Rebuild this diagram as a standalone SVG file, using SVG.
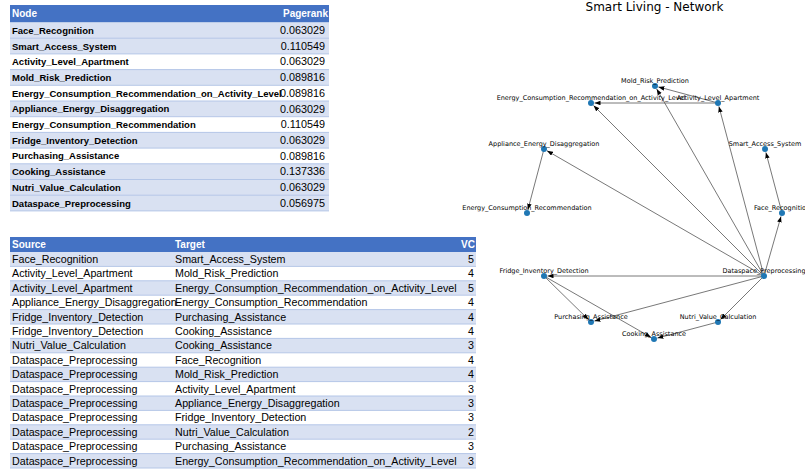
<svg xmlns="http://www.w3.org/2000/svg" width="805" height="470" viewBox="0 0 805 470">
<style>
.hdr{fill:#4472C4}
.band{fill:#D9E1F2}
.wht{fill:#FFFFFF}
.rule{stroke:#B4C6E7;stroke-width:1}
.th{font-family:"Liberation Sans",Arial,sans-serif;font-weight:bold;font-size:10px;fill:#FFFFFF}
.tb{font-family:"Liberation Sans",Arial,sans-serif;font-weight:bold;font-size:9.5px;fill:#000}
.tn{font-family:"Liberation Sans",Arial,sans-serif;font-size:10.8px;fill:#000}
.tr{font-family:"Liberation Sans",Arial,sans-serif;font-size:10.7px;fill:#000}
.r{text-anchor:end}
.title{font-family:"DejaVu Sans",sans-serif;font-size:12px;fill:#000;text-anchor:middle}
.lbl{font-family:"DejaVu Sans",sans-serif;font-size:6.5px;fill:#000;text-anchor:middle}
.node circle{fill:#1f77b4}
.edge{stroke:#555;stroke-width:0.8;fill:none;marker-end:url(#ah)}
</style>
<defs>
<marker id="ah" markerUnits="userSpaceOnUse" markerWidth="7" markerHeight="5" refX="6" refY="2.25" orient="auto">
<path d="M0,0 L6,2.25 L0,4.5 z" fill="#000"/>
</marker>
</defs>
<rect width="805" height="470" fill="#FFFFFF"/>

<g id="pagerank-table">
<rect class="hdr" x="10" y="5" width="319" height="17.5"/>
<rect class="band" x="10" y="22.5" width="319" height="15.7"/>
<rect class="band" x="10" y="38.2" width="319" height="15.7"/>
<rect class="wht" x="10" y="53.9" width="319" height="15.7"/>
<rect class="band" x="10" y="69.6" width="319" height="15.7"/>
<rect class="wht" x="10" y="85.3" width="319" height="15.7"/>
<rect class="band" x="10" y="101" width="319" height="15.7"/>
<rect class="wht" x="10" y="116.7" width="319" height="15.7"/>
<rect class="band" x="10" y="132.4" width="319" height="15.7"/>
<rect class="wht" x="10" y="148.1" width="319" height="15.7"/>
<rect class="band" x="10" y="163.8" width="319" height="15.7"/>
<rect class="band" x="10" y="179.5" width="319" height="15.7"/>
<rect class="band" x="10" y="195.2" width="319" height="15.7"/>
<g class="rule">
<line x1="10" y1="38.2" x2="329" y2="38.2"/><line x1="10" y1="53.9" x2="329" y2="53.9"/>
<line x1="10" y1="69.6" x2="329" y2="69.6"/><line x1="10" y1="85.3" x2="329" y2="85.3"/>
<line x1="10" y1="101" x2="329" y2="101"/><line x1="10" y1="116.7" x2="329" y2="116.7"/>
<line x1="10" y1="132.4" x2="329" y2="132.4"/><line x1="10" y1="148.1" x2="329" y2="148.1"/>
<line x1="10" y1="163.8" x2="329" y2="163.8"/><line x1="10" y1="179.5" x2="329" y2="179.5"/>
<line x1="10" y1="195.2" x2="329" y2="195.2"/><line x1="10" y1="210.9" x2="329" y2="210.9"/>
</g>
<text class="th" x="12" y="17">Node</text>
<text class="th r" x="328" y="17">Pagerank</text>
<text class="tb" x="12" y="33.8">Face_Recognition</text><text class="tn r" x="325" y="34">0.063029</text>
<text class="tb" x="12" y="49.5">Smart_Access_System</text><text class="tn r" x="325" y="49.7">0.110549</text>
<text class="tb" x="12" y="65.2">Activity_Level_Apartment</text><text class="tn r" x="325" y="65.4">0.063029</text>
<text class="tb" x="12" y="80.9">Mold_Risk_Prediction</text><text class="tn r" x="325" y="81.1">0.089816</text>
<text class="tb" x="12" y="96.6">Energy_Consumption_Recommendation_on_Activity_Level</text><text class="tn r" x="325" y="96.8">0.089816</text>
<text class="tb" x="12" y="112.3">Appliance_Energy_Disaggregation</text><text class="tn r" x="325" y="112.5">0.063029</text>
<text class="tb" x="12" y="128" font-size="8.6">Energy_Consumption_Recommendation</text><text class="tn r" x="325" y="128.2">0.110549</text>
<text class="tb" x="12" y="143.7">Fridge_Inventory_Detection</text><text class="tn r" x="325" y="143.9">0.063029</text>
<text class="tb" x="12" y="159.4">Purchasing_Assistance</text><text class="tn r" x="325" y="159.6">0.089816</text>
<text class="tb" x="12" y="175.1">Cooking_Assistance</text><text class="tn r" x="325" y="175.3">0.137336</text>
<text class="tb" x="12" y="190.8">Nutri_Value_Calculation</text><text class="tn r" x="325" y="191">0.063029</text>
<text class="tb" x="12" y="206.5">Dataspace_Preprocessing</text><text class="tn r" x="325" y="206.7">0.056975</text>
</g>

<g id="edge-table">
<rect class="hdr" x="10" y="237" width="466" height="15"/>
<rect class="band" x="10" y="252" width="466" height="14.4"/>
<rect class="wht" x="10" y="266.4" width="466" height="14.4"/>
<rect class="band" x="10" y="280.8" width="466" height="14.4"/>
<rect class="wht" x="10" y="295.2" width="466" height="14.4"/>
<rect class="band" x="10" y="309.6" width="466" height="14.4"/>
<rect class="wht" x="10" y="324" width="466" height="14.4"/>
<rect class="band" x="10" y="338.4" width="466" height="14.4"/>
<rect class="wht" x="10" y="352.8" width="466" height="14.4"/>
<rect class="band" x="10" y="367.2" width="466" height="14.4"/>
<rect class="wht" x="10" y="381.6" width="466" height="14.4"/>
<rect class="band" x="10" y="396" width="466" height="14.4"/>
<rect class="wht" x="10" y="410.4" width="466" height="14.4"/>
<rect class="band" x="10" y="424.8" width="466" height="14.4"/>
<rect class="wht" x="10" y="439.2" width="466" height="14.4"/>
<rect class="band" x="10" y="453.6" width="466" height="14.4"/>
<g class="rule">
<line x1="10" y1="266.4" x2="476" y2="266.4"/><line x1="10" y1="280.8" x2="476" y2="280.8"/>
<line x1="10" y1="295.2" x2="476" y2="295.2"/><line x1="10" y1="309.6" x2="476" y2="309.6"/>
<line x1="10" y1="324" x2="476" y2="324"/><line x1="10" y1="338.4" x2="476" y2="338.4"/>
<line x1="10" y1="352.8" x2="476" y2="352.8"/><line x1="10" y1="367.2" x2="476" y2="367.2"/>
<line x1="10" y1="381.6" x2="476" y2="381.6"/><line x1="10" y1="396" x2="476" y2="396"/>
<line x1="10" y1="410.4" x2="476" y2="410.4"/><line x1="10" y1="424.8" x2="476" y2="424.8"/>
<line x1="10" y1="439.2" x2="476" y2="439.2"/><line x1="10" y1="453.6" x2="476" y2="453.6"/>
<line x1="10" y1="468" x2="476" y2="468"/>
</g>
<text class="th" x="12" y="248">Source</text>
<text class="th" x="175" y="248">Target</text>
<text class="th r" x="475" y="248">VC</text>
<text class="tr" x="12" y="263">Face_Recognition</text><text class="tr" x="175" y="263">Smart_Access_System</text><text class="tr r" x="474" y="263">5</text>
<text class="tr" x="12" y="277.4">Activity_Level_Apartment</text><text class="tr" x="175" y="277.4">Mold_Risk_Prediction</text><text class="tr r" x="474" y="277.4">4</text>
<text class="tr" x="12" y="291.8">Activity_Level_Apartment</text><text class="tr" x="175" y="291.8">Energy_Consumption_Recommendation_on_Activity_Level</text><text class="tr r" x="474" y="291.8">5</text>
<text class="tr" x="12" y="306.2">Appliance_Energy_Disaggregation</text><text class="tr" x="175" y="306.2">Energy_Consumption_Recommendation</text><text class="tr r" x="474" y="306.2">4</text>
<text class="tr" x="12" y="320.6">Fridge_Inventory_Detection</text><text class="tr" x="175" y="320.6">Purchasing_Assistance</text><text class="tr r" x="474" y="320.6">4</text>
<text class="tr" x="12" y="335">Fridge_Inventory_Detection</text><text class="tr" x="175" y="335">Cooking_Assistance</text><text class="tr r" x="474" y="335">4</text>
<text class="tr" x="12" y="349.4">Nutri_Value_Calculation</text><text class="tr" x="175" y="349.4">Cooking_Assistance</text><text class="tr r" x="474" y="349.4">3</text>
<text class="tr" x="12" y="363.8">Dataspace_Preprocessing</text><text class="tr" x="175" y="363.8">Face_Recognition</text><text class="tr r" x="474" y="363.8">4</text>
<text class="tr" x="12" y="378.2">Dataspace_Preprocessing</text><text class="tr" x="175" y="378.2">Mold_Risk_Prediction</text><text class="tr r" x="474" y="378.2">4</text>
<text class="tr" x="12" y="392.6">Dataspace_Preprocessing</text><text class="tr" x="175" y="392.6">Activity_Level_Apartment</text><text class="tr r" x="474" y="392.6">3</text>
<text class="tr" x="12" y="407">Dataspace_Preprocessing</text><text class="tr" x="175" y="407">Appliance_Energy_Disaggregation</text><text class="tr r" x="474" y="407">3</text>
<text class="tr" x="12" y="421.4">Dataspace_Preprocessing</text><text class="tr" x="175" y="421.4">Fridge_Inventory_Detection</text><text class="tr r" x="474" y="421.4">3</text>
<text class="tr" x="12" y="435.8">Dataspace_Preprocessing</text><text class="tr" x="175" y="435.8">Nutri_Value_Calculation</text><text class="tr r" x="474" y="435.8">2</text>
<text class="tr" x="12" y="450.2">Dataspace_Preprocessing</text><text class="tr" x="175" y="450.2">Purchasing_Assistance</text><text class="tr r" x="474" y="450.2">3</text>
<text class="tr" x="12" y="464.6">Dataspace_Preprocessing</text><text class="tr" x="175" y="464.6">Energy_Consumption_Recommendation_on_Activity_Level</text><text class="tr r" x="474" y="464.6">3</text>
</g>

<text class="title" x="654.5" y="11">Smart Living - Network</text>

<g id="connectors">
<line class="edge" x1="782" y1="213" x2="765.9" y2="152.4"/>
<line class="edge" x1="718" y1="103" x2="658.4" y2="86.9"/>
<line class="edge" x1="718" y1="103" x2="594.5" y2="103"/>
<line class="edge" x1="544" y1="149" x2="527.9" y2="209.6"/>
<line class="edge" x1="544" y1="276" x2="588.5" y2="319.6"/>
<line class="edge" x1="544" y1="276" x2="651" y2="337.3"/>
<line class="edge" x1="718" y1="322" x2="657.4" y2="338.1"/>
<line class="edge" x1="764" y1="276" x2="781" y2="216.4"/>
<line class="edge" x1="764" y1="276" x2="656.7" y2="89"/>
<line class="edge" x1="764" y1="276" x2="718.9" y2="106.4"/>
<line class="edge" x1="764" y1="276" x2="547" y2="150.75"/>
<line class="edge" x1="764" y1="276" x2="547.5" y2="276"/>
<line class="edge" x1="764" y1="276" x2="720.5" y2="319.5"/>
<line class="edge" x1="764" y1="276" x2="594.4" y2="321.1"/>
<line class="edge" x1="764" y1="276" x2="593.5" y2="105.5"/>
</g>

<g id="n-mold" class="node"><circle cx="655" cy="86" r="3"/><text class="lbl" x="655" y="83">Mold_Risk_Prediction</text></g>
<g id="n-ecral" class="node"><circle cx="591" cy="103" r="3"/><text class="lbl" x="591" y="100">Energy_Consumption_Recommendation_on_Activity_Level</text></g>
<g id="n-ala" class="node"><circle cx="718" cy="103" r="3"/><text class="lbl" x="718" y="100">Activity_Level_Apartment</text></g>
<g id="n-aed" class="node"><circle cx="544" cy="149" r="3"/><text class="lbl" x="544" y="146">Appliance_Energy_Disaggregation</text></g>
<g id="n-sas" class="node"><circle cx="765" cy="149" r="3"/><text class="lbl" x="765" y="146">Smart_Access_System</text></g>
<g id="n-ecr" class="node"><circle cx="527" cy="213" r="3"/><text class="lbl" x="527" y="210">Energy_Consumption_Recommendation</text></g>
<g id="n-fr" class="node"><circle cx="782" cy="213" r="3"/><text class="lbl" x="782" y="210">Face_Recognition</text></g>
<g id="n-fid" class="node"><circle cx="544" cy="276" r="3"/><text class="lbl" x="544" y="273">Fridge_Inventory_Detection</text></g>
<g id="n-dp" class="node"><circle cx="764" cy="276" r="3"/><text class="lbl" x="764" y="273">Dataspace_Preprocessing</text></g>
<g id="n-pa" class="node"><circle cx="591" cy="322" r="3"/><text class="lbl" x="591" y="319">Purchasing_Assistance</text></g>
<g id="n-nvc" class="node"><circle cx="718" cy="322" r="3"/><text class="lbl" x="718" y="319">Nutri_Value_Calculation</text></g>
<g id="n-ca" class="node"><circle cx="654" cy="339" r="3"/><text class="lbl" x="654" y="336">Cooking_Assistance</text></g>
</svg>
